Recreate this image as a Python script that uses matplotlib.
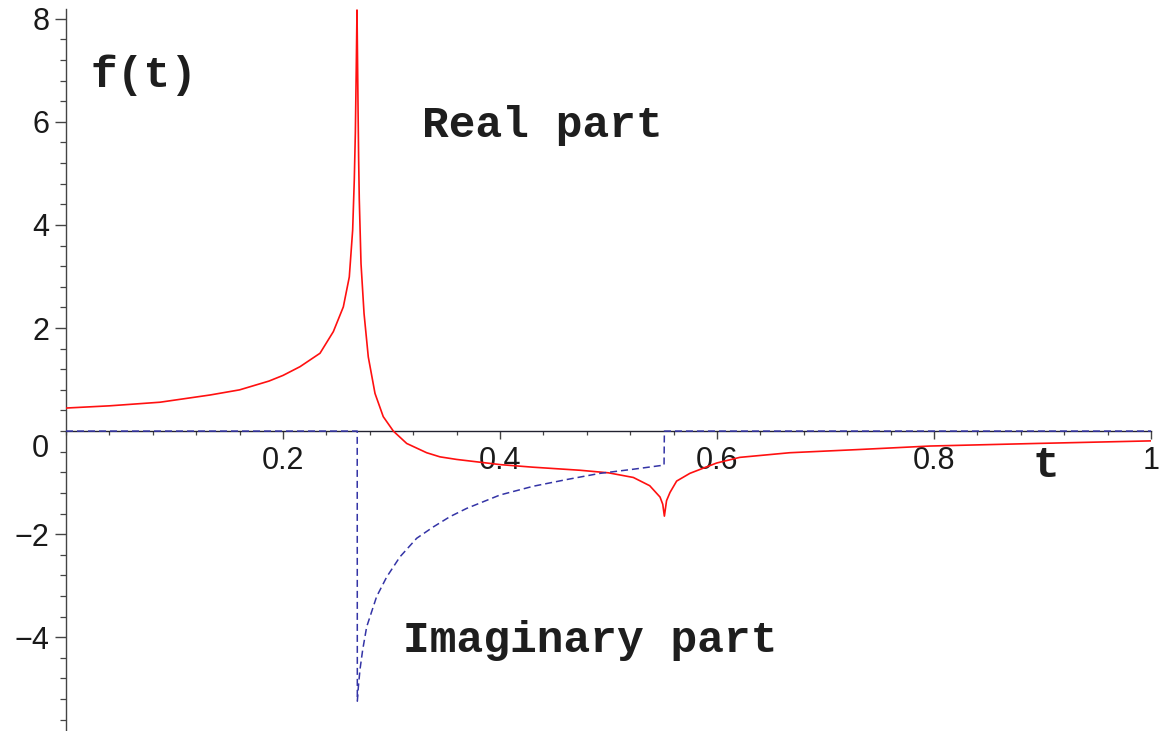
import matplotlib
matplotlib.use("Agg")
import matplotlib.pyplot as plt
from matplotlib.ticker import MultipleLocator, FixedLocator, FixedFormatter

# ---- data ----
t_real = [0.0, 0.04, 0.0866, 0.1327, 0.16, 0.187, 0.2, 0.2157, 0.2341, 0.2464,
          0.2556, 0.2611, 0.2642, 0.2657, 0.2667, 0.2675, 0.2682, 0.2688,
          0.2692, 0.2697, 0.2703, 0.2719, 0.2747, 0.2786, 0.2848, 0.2924,
          0.3017, 0.314, 0.3324, 0.3447, 0.36, 0.38, 0.4, 0.43, 0.4737, 0.50,
          0.5229, 0.538, 0.5475, 0.5500, 0.5515, 0.5535, 0.5567, 0.5628, 0.575,
          0.5996, 0.621, 0.667, 0.7287, 0.7963, 0.8946, 1.0]
re_vals = [0.447, 0.49, 0.56, 0.70, 0.80, 0.97, 1.08, 1.25, 1.51, 1.93,
           2.41, 2.99, 3.90, 4.87, 5.80, 7.00, 8.17, 7.00,
           6.20, 5.30, 4.50, 3.25, 2.28, 1.44, 0.73, 0.28,
           0.0, -0.24, -0.42, -0.50, -0.55, -0.60, -0.65, -0.70, -0.76, -0.81,
           -0.90, -1.06, -1.28, -1.42, -1.65, -1.35, -1.19, -0.97, -0.82,
           -0.62, -0.51, -0.42, -0.36, -0.29, -0.24, -0.19]

t_imag = [0.0, 0.2684, 0.2685, 0.2695, 0.2710, 0.2734, 0.2771, 0.2863, 0.2956,
          0.3078, 0.3232, 0.3385, 0.3539, 0.3693, 0.4, 0.4307, 0.4615, 0.4922,
          0.5229, 0.5512, 0.5515, 1.0]
im_vals = [0.0, 0.0, -5.24, -4.95, -4.62, -4.25, -3.80, -3.21, -2.83,
           -2.44, -2.08, -1.86, -1.66, -1.50, -1.24, -1.07, -0.94, -0.82,
           -0.74, -0.66, 0.0, 0.0]

x_ticks = [0.2, 0.4, 0.6, 0.8, 1.0]
x_tick_labels = ["0.2", "0.4", "0.6", "0.8", "1"]
y_ticks = [-4, -2, 2, 4, 6, 8]
y_tick_labels = ["\u22124", "\u22122", "2", "4", "6", "8"]

W, H = 1165, 731
fig = plt.figure(figsize=(W / 100, H / 100), dpi=100)
ax = fig.add_axes([66 / W, 1 - 730 / H, (1151 - 66) / W, (730 - 9) / H])
ax.set_xlim(0, 1)
ax.set_ylim(-5.8, 8.19)

ax.plot(t_real, re_vals, color="#ff1010", lw=1.2, zorder=3,
        solid_joinstyle="round")
ax.plot(t_imag, im_vals, color="#3434a6", lw=1.1, dashes=(4.6, 2.6), zorder=3)

for s in ("top", "right"):
    ax.spines[s].set_visible(False)
ax.spines["bottom"].set_position(("data", 0))
ax.spines["bottom"].set_color("#222230")
ax.spines["left"].set_color("#444444")
ax.spines["bottom"].set_linewidth(1.0)
ax.spines["left"].set_linewidth(1.0)

ax.xaxis.set_major_locator(FixedLocator(x_ticks))
ax.xaxis.set_major_formatter(FixedFormatter(x_tick_labels))
ax.xaxis.set_minor_locator(MultipleLocator(0.04))
ax.yaxis.set_major_locator(FixedLocator(y_ticks))
ax.yaxis.set_major_formatter(FixedFormatter(y_tick_labels))
ax.yaxis.set_minor_locator(MultipleLocator(0.4))

ax.tick_params(axis="x", which="major", direction="out", length=5.8, width=1.0,
               color="#444444", pad=5, labelsize=22, labelcolor="#1a1a1a")
ax.tick_params(axis="x", which="minor", direction="out", length=3.0, width=0.9,
               color="#444444")
ax.tick_params(axis="y", which="major", direction="out", length=7.9, width=1.0,
               color="#444444", pad=4, labelsize=22, labelcolor="#1a1a1a")
ax.tick_params(axis="y", which="minor", direction="out", length=4.3, width=0.9,
               color="#444444")
for lab in ax.get_xticklabels() + ax.get_yticklabels():
    lab.set_family("Liberation Sans")

# zero label, shifted below the axis as in the reference
ax.annotate("0", xy=(0, 0), xycoords="data", xytext=(-17, -18),
            textcoords="offset pixels", ha="right", va="center",
            fontsize=22, family="Liberation Sans", color="#1a1a1a",
            annotation_clip=False)

mono = dict(family="Liberation Mono", weight="bold", size=32, color="#1e1e1e")
ax.text(0.0228, 6.67, "f(t)", ha="left", va="baseline", **mono)
ax.text(0.328, 5.70, "Real part", ha="left", va="baseline", **mono)
ax.text(0.3106, -4.29, "Imaginary part", ha="left", va="baseline", **mono)
ax.text(0.891, -0.89, "t", ha="left", va="baseline", **mono)

fig.savefig("out.png", dpi=100)
